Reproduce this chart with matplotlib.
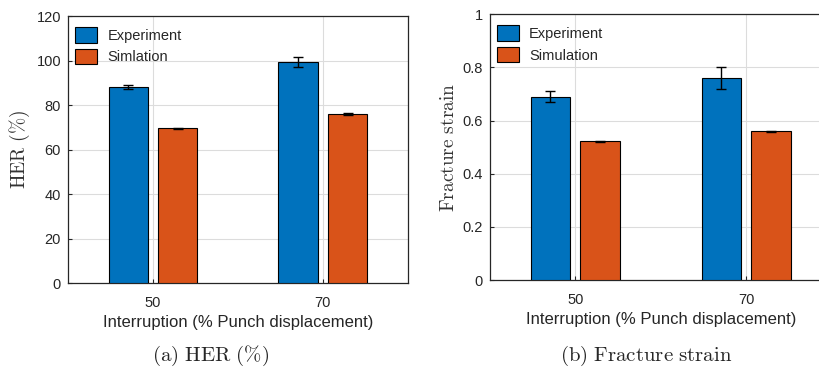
import numpy as np
import matplotlib
matplotlib.use('agg')
import matplotlib.pyplot as plt

plt.rcParams['font.family'] = ['Liberation Sans', 'DejaVu Sans']
plt.rcParams['mathtext.fontset'] = 'cm'

interruption = [50, 70]

her_exp = [88.0, 99.5]
her_exp_err = [1.0, 2.2]
her_sim = [69.5, 76.0]
her_sim_err = [0.3, 0.3]

strain_exp = [0.69, 0.76]
strain_exp_err = [0.02, 0.04]
strain_sim = [0.522, 0.56]
strain_sim_err = [0.002, 0.002]

blue = '#0072BD'
orange = '#D95319'
axis_col = '#262626'

fig = plt.figure(figsize=(8.19, 3.73), dpi=100)
ax1 = fig.add_axes([0.083, 0.241, 0.415, 0.716])
ax2 = fig.add_axes([0.598, 0.249, 0.4176, 0.713])


def bar_panel(ax, exp, exp_err, sim, sim_err, ymax, yticks, ylabel, sim_name):
    x = np.array(interruption, dtype=float)
    off, w = 2.9, 4.65
    ax.bar(x - off, exp, w, color=blue, edgecolor='black', linewidth=0.8,
           label='Experiment', zorder=3)
    ax.bar(x + off, sim, w, color=orange, edgecolor='black', linewidth=0.8,
           label=sim_name, zorder=3)
    ax.errorbar(x - off, exp, yerr=exp_err, fmt='none', ecolor='black',
                elinewidth=1, capsize=3.5, capthick=1, zorder=4)
    ax.errorbar(x + off, sim, yerr=sim_err, fmt='none', ecolor='black',
                elinewidth=1, capsize=3.5, capthick=1, zorder=4)
    ax.set_xlim(40, 80)
    ax.set_ylim(0, ymax)
    ax.set_xticks(interruption)
    ax.set_yticks(yticks)
    ax.grid(True, color='#dcdcdc', linewidth=0.8, zorder=0)
    ax.set_axisbelow(True)
    for s in ax.spines.values():
        s.set_color(axis_col)
        s.set_linewidth(0.9)
    ax.tick_params(direction='in', length=3, width=0.8, colors=axis_col,
                   labelsize=10.5)
    ax.tick_params(axis='x', pad=9)
    ax.tick_params(axis='y', pad=5)
    ax.set_xlabel('Interruption (% Punch displacement)', fontsize=12,
                  color='#262626', labelpad=4)
    ax.set_ylabel(ylabel, fontsize=14, color='#333333', labelpad=3)
    leg = ax.legend(loc='upper left', bbox_to_anchor=(0, 0.985), frameon=False,
                    fontsize=10.5, handlelength=1.5, handleheight=1.25,
                    borderaxespad=0.2, borderpad=0.3, labelspacing=0.4,
                    handletextpad=0.7)
    for t in leg.get_texts():
        t.set_color('#262626')


bar_panel(ax1, her_exp, her_exp_err, her_sim, her_sim_err, 120,
          range(0, 121, 20), r'$\mathrm{HER\ (\%)}$', 'Simlation')
bar_panel(ax2, strain_exp, strain_exp_err, strain_sim, strain_sim_err, 1,
          [0, 0.2, 0.4, 0.6, 0.8, 1], r'$\mathrm{Fracture\ strain}$', 'Simulation')
ax2.set_yticklabels(['0', '0.2', '0.4', '0.6', '0.8', '1'])

fig.text(0.257, 0.045, r'$\mathrm{(a)\ HER\ (\%)}$', fontsize=15,
         ha='center', va='center', color='#262626')
fig.text(0.789, 0.045, r'$\mathrm{(b)\ Fracture\ strain}$', fontsize=15,
         ha='center', va='center', color='#262626')

fig.savefig('out.png', dpi=100)
